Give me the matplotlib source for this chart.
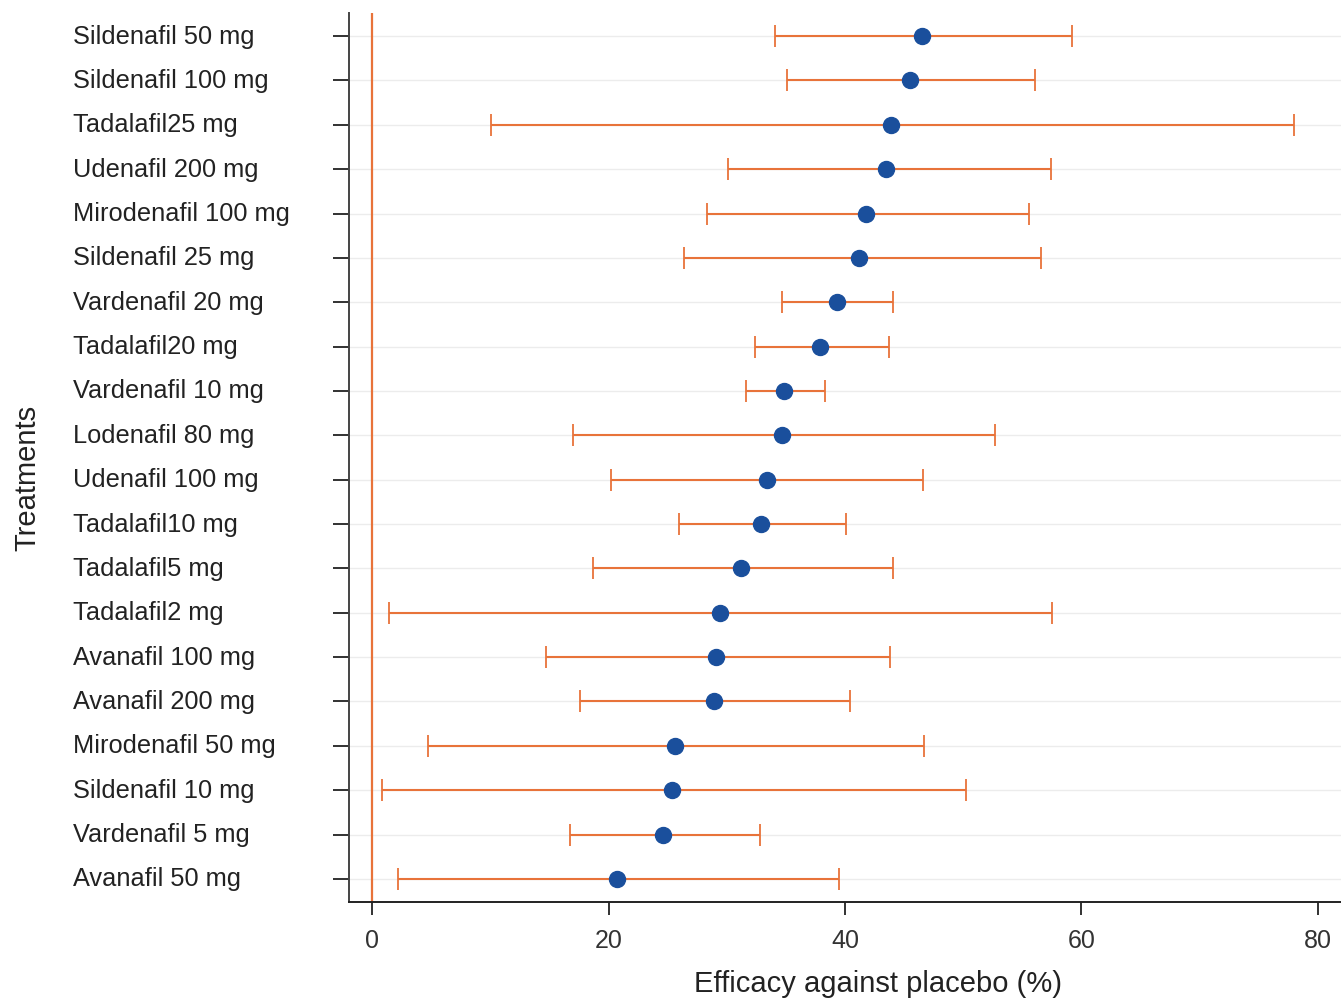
import matplotlib
matplotlib.use("Agg")
import matplotlib.pyplot as plt
import matplotlib.transforms as mtransforms
import numpy as np

plt.rcParams['font.family'] = ['Liberation Sans', 'DejaVu Sans']

treatments = ["Sildenafil 50 mg", "Sildenafil 100 mg", "Tadalafil25 mg", "Udenafil 200 mg",
              "Mirodenafil 100 mg", "Sildenafil 25 mg", "Vardenafil 20 mg", "Tadalafil20 mg",
              "Vardenafil 10 mg", "Lodenafil 80 mg", "Udenafil 100 mg", "Tadalafil10 mg",
              "Tadalafil5 mg", "Tadalafil2 mg", "Avanafil 100 mg", "Avanafil 200 mg",
              "Mirodenafil 50 mg", "Sildenafil 10 mg", "Vardenafil 5 mg", "Avanafil 50 mg"]
efficacy = [46.5, 45.5, 43.9, 43.5, 41.8, 41.2, 39.3, 37.9, 34.8, 34.7,
            33.4, 32.9, 31.2, 29.4, 29.1, 28.9, 25.6, 25.4, 24.6, 20.7]
lower = [34.1, 35.1, 10.1, 30.1, 28.3, 26.4, 34.7, 32.4, 31.6, 17.0,
         20.2, 26.0, 18.7, 1.4, 14.7, 17.6, 4.7, 0.8, 16.7, 2.2]
upper = [59.2, 56.1, 78.0, 57.4, 55.6, 56.6, 44.1, 43.7, 38.3, 52.7,
         46.6, 40.1, 44.1, 57.5, 43.8, 40.4, 46.7, 50.2, 32.8, 39.5]
xticks = [0, 20, 40, 60, 80]

orange = "#E8733A"
blue = "#1A4F9C"

fig = plt.figure(figsize=(13.41, 10.04), dpi=100)
ax = fig.add_axes([349/1341, 101/1004, 992/1341, 889/1004])

y = np.arange(len(treatments))
eff = np.array(efficacy)
lo = np.array(lower)
hi = np.array(upper)

for yi in y:
    ax.axhline(yi, color="#ececec", lw=1.0, zorder=0)
ax.axvline(0, color=orange, lw=1.6, zorder=1)

ax.errorbar(eff, y, xerr=[eff - lo, hi - eff], fmt='none', ecolor=orange,
            elinewidth=1.5, capsize=8, capthick=1.3, zorder=2)
ax.plot(eff, y, 'o', color=blue, markersize=11.5, zorder=3)

ax.set_ylim(len(treatments) - 0.48, -0.52)
ax.set_xlim(-1.95, 81.95)
ax.set_yticks(y)
ax.set_yticklabels(treatments, fontsize=18.3, ha='left', color="#222222")
ax.tick_params(axis='y', length=11.5, width=1.3, pad=187, color="#222222")
shift = mtransforms.ScaledTranslation(0, 3/100, fig.dpi_scale_trans)
for lab in ax.get_yticklabels():
    lab.set_transform(lab.get_transform() + shift)
ax.set_xticks(xticks)
ax.set_xticklabels([str(t) for t in xticks], fontsize=18, color="#333333")
ax.tick_params(axis='x', length=9, width=1.3, pad=10, color="#222222")

for s in ['top', 'right']:
    ax.spines[s].set_visible(False)
ax.spines['left'].set_color("#444444")
ax.spines['left'].set_linewidth(1.4)
ax.spines['bottom'].set_color("#222222")
ax.spines['bottom'].set_linewidth(1.4)

ax.set_xlabel("Efficacy against placebo (%)", fontsize=21, color="#222222")
ax.xaxis.set_label_coords(0.533, -0.0755)
fig.text(27/1341, 1 - 478/1004, "Treatments", rotation=90, fontsize=21,
         color="#222222", ha='center', va='center')

fig.savefig("out.png", dpi=100)
